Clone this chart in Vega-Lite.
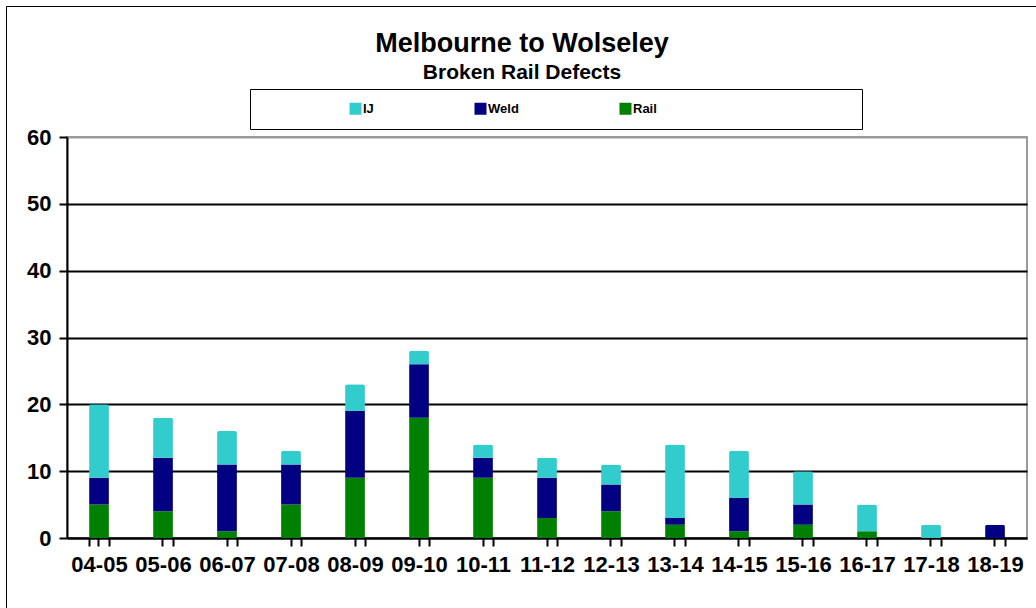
{
  "$schema": "https://vega.github.io/schema/vega-lite/v6.json",
  "width": 960,
  "height": 401,
  "autosize": "none",
  "padding": {"left": 67, "top": 137, "right": 9, "bottom": 70},
  "background": "white",
  "title": {
    "text": "Melbourne to Wolseley",
    "subtitle": "Broken Rail Defects",
    "anchor": "middle",
    "dx": -25,
    "dy": 86,
    "offset": 8,
    "font": "Liberation Sans",
    "fontSize": 27,
    "fontWeight": "bold",
    "color": "black",
    "subtitleFont": "Liberation Sans",
    "subtitleFontSize": 21,
    "subtitleFontWeight": "bold",
    "subtitleColor": "black",
    "subtitlePadding": 4
  },
  "data": {
    "values": [
      {"year": "04-05", "type": "Rail", "count": 5}, {"year": "04-05", "type": "Weld", "count": 4}, {"year": "04-05", "type": "IJ", "count": 11},
      {"year": "05-06", "type": "Rail", "count": 4}, {"year": "05-06", "type": "Weld", "count": 8}, {"year": "05-06", "type": "IJ", "count": 6},
      {"year": "06-07", "type": "Rail", "count": 1}, {"year": "06-07", "type": "Weld", "count": 10}, {"year": "06-07", "type": "IJ", "count": 5},
      {"year": "07-08", "type": "Rail", "count": 5}, {"year": "07-08", "type": "Weld", "count": 6}, {"year": "07-08", "type": "IJ", "count": 2},
      {"year": "08-09", "type": "Rail", "count": 9}, {"year": "08-09", "type": "Weld", "count": 10}, {"year": "08-09", "type": "IJ", "count": 4},
      {"year": "09-10", "type": "Rail", "count": 18}, {"year": "09-10", "type": "Weld", "count": 8}, {"year": "09-10", "type": "IJ", "count": 2},
      {"year": "10-11", "type": "Rail", "count": 9}, {"year": "10-11", "type": "Weld", "count": 3}, {"year": "10-11", "type": "IJ", "count": 2},
      {"year": "11-12", "type": "Rail", "count": 3}, {"year": "11-12", "type": "Weld", "count": 6}, {"year": "11-12", "type": "IJ", "count": 3},
      {"year": "12-13", "type": "Rail", "count": 4}, {"year": "12-13", "type": "Weld", "count": 4}, {"year": "12-13", "type": "IJ", "count": 3},
      {"year": "13-14", "type": "Rail", "count": 2}, {"year": "13-14", "type": "Weld", "count": 1}, {"year": "13-14", "type": "IJ", "count": 11},
      {"year": "14-15", "type": "Rail", "count": 1}, {"year": "14-15", "type": "Weld", "count": 5}, {"year": "14-15", "type": "IJ", "count": 7},
      {"year": "15-16", "type": "Rail", "count": 2}, {"year": "15-16", "type": "Weld", "count": 3}, {"year": "15-16", "type": "IJ", "count": 5},
      {"year": "16-17", "type": "Rail", "count": 1}, {"year": "16-17", "type": "Weld", "count": 0}, {"year": "16-17", "type": "IJ", "count": 4},
      {"year": "17-18", "type": "Rail", "count": 0}, {"year": "17-18", "type": "Weld", "count": 0}, {"year": "17-18", "type": "IJ", "count": 2},
      {"year": "18-19", "type": "Rail", "count": 0}, {"year": "18-19", "type": "Weld", "count": 2}, {"year": "18-19", "type": "IJ", "count": 0}
    ]
  },
  "layer": [
    {
      "transform": [{"calculate": "indexof(['Rail', 'Weld', 'IJ'], datum.type)", "as": "stackOrder"}],
      "mark": {"type": "bar", "cornerRadiusTopLeft": 2, "cornerRadiusTopRight": 2},
      "encoding": {
        "x": {
          "field": "year",
          "type": "nominal",
          "sort": null,
          "scale": {"paddingInner": 0.69, "paddingOuter": 0.345},
          "axis": {
            "title": null,
            "labelAngle": 0,
            "labelFont": "Liberation Sans",
            "labelFontSize": 22,
            "labelFontWeight": "bold",
            "labelColor": "black",
            "labelPadding": 8,
            "tickBand": "extent",
            "tickColor": "black",
            "tickSize": 8,
            "tickWidth": 2,
            "domainColor": "black",
            "domainWidth": 2,
            "grid": false
          }
        },
        "y": {
          "field": "count",
          "type": "quantitative",
          "aggregate": "sum",
          "stack": "zero",
          "scale": {"domain": [0, 60], "nice": false},
          "axis": {
            "title": null,
            "values": [0, 10, 20, 30, 40, 50, 60],
            "labelFont": "Liberation Sans",
            "labelFontSize": 22,
            "labelFontWeight": "bold",
            "labelColor": "black",
            "labelPadding": 8,
            "tickColor": "black",
            "tickSize": 8,
            "tickWidth": 2,
            "domainColor": "black",
            "domainWidth": 2,
            "grid": true,
            "gridColor": {"condition": {"test": "datum.value === 60", "value": "#9a9a9a"}, "value": "black"},
            "gridWidth": 2,
            "gridOpacity": 1
          }
        },
        "order": {"field": "stackOrder", "type": "quantitative", "aggregate": "min"},
        "color": {
          "field": "type",
          "type": "nominal",
          "scale": {"domain": ["IJ", "Weld", "Rail"], "range": ["#33CCCC", "#000080", "#008000"]},
          "legend": {
            "orient": "none",
            "legendX": 183,
            "legendY": -48,
            "direction": "horizontal",
            "title": "\u00a0",
            "titleOrient": "left",
            "titlePadding": 86,
            "titleFontSize": 8,
            "strokeColor": "black",
            "fillColor": "white",
            "padding": 13,
            "symbolType": "square",
            "symbolSize": 144,
            "symbolStrokeWidth": 0,
            "symbolOpacity": 1,
            "labelFont": "Liberation Sans",
            "labelFontSize": 13,
            "labelFontWeight": "bold",
            "labelColor": "black",
            "labelOffset": 1,
            "labelLimit": 400,
            "columnPadding": 100,
            "labelExpr": "datum.label === 'Rail' ? 'Rail\u00a0\u00a0\u00a0\u00a0\u00a0\u00a0\u00a0\u00a0\u00a0\u00a0\u00a0\u00a0\u00a0\u00a0\u00a0\u00a0\u00a0\u00a0\u00a0\u00a0\u00a0\u00a0\u00a0\u00a0\u00a0\u00a0\u00a0\u00a0\u00a0\u00a0\u00a0\u00a0\u00a0\u00a0\u00a0\u00a0\u00a0\u00a0\u00a0\u00a0\u00a0\u00a0\u00a0\u00a0\u00a0\u00a0\u00a0\u00a0\u00a0\u00a0\u00a0\u00a0\u00a0\u200b' : datum.label"
          }
        }
      }
    },
    {
      "mark": {"type": "point", "opacity": 0},
      "encoding": {
        "x": {
          "field": "year",
          "type": "nominal",
          "sort": null,
          "axis": {
            "orient": "bottom",
            "title": null,
            "labels": false,
            "domain": false,
            "grid": false,
            "tickBand": "center",
            "tickColor": "black",
            "tickSize": 8,
            "tickWidth": 2
          }
        },
        "shape": {
          "datum": "frame",
          "legend": {
            "orient": "none",
            "legendX": -61,
            "legendY": -131,
            "padding": 1200,
            "strokeColor": "black",
            "title": null,
            "labelExpr": "''",
            "symbolOpacity": 0,
            "symbolStrokeWidth": 0
          }
        }
      }
    }
  ],
  "resolve": {"axis": {"x": "independent"}},
  "config": {
    "view": {"stroke": "#9a9a9a", "strokeWidth": 2}
  }
}
